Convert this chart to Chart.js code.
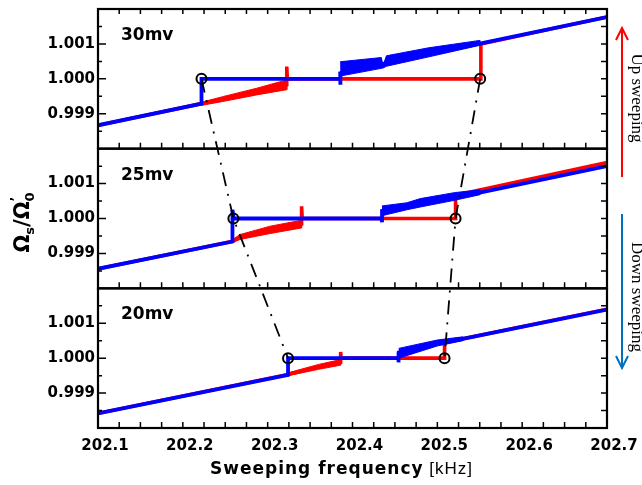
<!DOCTYPE html>
<html><head><meta charset="utf-8">
<script src="https://cdn.jsdelivr.net/npm/chart.js@4.4.1/dist/chart.umd.min.js"></script>
<style>html,body{margin:0;padding:0;background:#fff;}canvas{display:block;}</style>
</head><body>
<canvas id="c" width="642" height="485"></canvas>
<script>
// ---- labels ----
const panelLabels = ['30mv', '25mv', '20mv'];
const xTickLabels = ['202.1', '202.2', '202.3', '202.4', '202.5', '202.6', '202.7'];
const yTickLabels = ['0.999', '1.000', '1.001'];

// ---- 30 mV panel ----
const up30F = [202.1, 202.222, 202.247, 202.287, 202.3225, 202.3225, 202.3232, 202.5513, 202.5513, 202.7];
const up30V = [0.99867, 0.99929, 0.99942, 0.99963, 0.99983, 1.00035, 1.00000, 1.00000, 1.00100, 1.00177];
const upBand30F = [202.222, 202.247, 202.287, 202.3225, 202.3225, 202.287, 202.247, 202.222];
const upBand30V = [0.99933, 0.99949, 0.99973, 0.99997, 0.99969, 0.99954, 0.99935, 0.99924];
const down30F = [202.7, 202.55, 202.49, 202.44, 202.3855, 202.3855, 202.386, 202.222, 202.222, 202.1];
const down30V = [1.00177, 1.00101, 1.00071, 1.00045, 1.00016, 0.99983, 1.00000, 1.00000, 0.99929, 0.99867];
const downBand30F = [202.3855, 202.434, 202.436, 202.440, 202.49, 202.55, 202.55, 202.49, 202.440, 202.436, 202.434, 202.3855];
const downBand30V = [1.00049, 1.00061, 1.00038, 1.00066, 1.00089, 1.00110, 1.00096, 1.00063, 1.00036, 1.00031, 1.00030, 1.00008];

// ---- 25 mV panel ----
const up25F = [202.1, 202.259, 202.2675, 202.303, 202.340, 202.340, 202.3407, 202.5215, 202.5215, 202.7];
const up25V = [0.99856, 0.99935, 0.99947, 0.99968, 0.99984, 1.00035, 1.00000, 1.00000, 1.00067, 1.00160];
const upBand25F = [202.259, 202.2675, 202.303, 202.340, 202.340, 202.303, 202.2675, 202.259];
const upBand25V = [0.99940, 0.99954, 0.99978, 0.99995, 0.99973, 0.99957, 0.99940, 0.99932];
const down25F = [202.7, 202.55, 202.5245, 202.4348, 202.4348, 202.4345, 202.2600, 202.2585, 202.2585, 202.1];
const down25V = [1.00150, 1.00074, 1.00062, 1.00022, 0.99989, 1.00000, 1.00000, 1.00025, 0.99934, 0.99856];
const downBand25F = [202.4348, 202.464, 202.48, 202.52, 202.55, 202.55, 202.52, 202.48, 202.464, 202.4348];
const downBand25V = [1.00036, 1.00045, 1.00057, 1.00074, 1.00082, 1.00068, 1.00052, 1.00033, 1.00025, 1.00008];

// ---- 20 mV panel ----
const up20F = [202.1, 202.324, 202.36, 202.386, 202.386, 202.3867, 202.5085, 202.5085, 202.7];
const up20V = [0.99842, 0.99953, 0.99975, 0.99988, 1.00018, 1.00000, 1.00000, 1.00045, 1.00140];
const upBand20F = [202.324, 202.36, 202.386, 202.386, 202.36, 202.324];
const upBand20V = [0.99958, 0.99982, 0.99996, 0.99980, 0.99968, 0.99950];
const down20F = [202.7, 202.53, 202.50, 202.4545, 202.4545, 202.454, 202.324, 202.324, 202.1];
const down20V = [1.00139, 1.00055, 1.00043, 1.00016, 0.99988, 1.00000, 1.00000, 0.99952, 0.99842];
const downBand20F = [202.4545, 202.50, 202.53, 202.53, 202.50, 202.4545];
const downBand20V = [1.00028, 1.00052, 1.00061, 1.00050, 1.00035, 1.00000];

// ---- jump points (circles) linked across panels ----
const circleLeftF = [202.222, 202.2596, 202.324];
const circleRightF = [202.5505, 202.5215, 202.5085];
const circleV = [1.000, 1.000, 1.000];

const PANEL_MIN = 0.998, PANEL_MAX = 1.002, PANEL_SPAN = 4; // 4 units of 0.001
const panelAxes = ['y1', 'y2', 'y3'];
const RED = 'rgb(255,0,0)', BLUE = 'rgb(0,0,255)';

function pts(fs, vs) { return fs.map((f, i) => ({x: f, y: vs[i]})); }
function toAll(v, p) { return (panelAxes.length - 1 - p) * PANEL_SPAN + (v - PANEL_MIN) / 0.001; }

const panelData = [
  {up: [up30F, up30V], upBand: [upBand30F, upBand30V], down: [down30F, down30V], downBand: [downBand30F, downBand30V]},
  {up: [up25F, up25V], upBand: [upBand25F, upBand25V], down: [down25F, down25V], downBand: [downBand25F, downBand25V]},
  {up: [up20F, up20V], upBand: [upBand20F, upBand20V], down: [down20F, down20V], downBand: [downBand20F, downBand20V]}
];

const datasets = [];
const linkStyle = {
  yAxisID: 'yAll', showLine: true, borderColor: '#000', borderWidth: 1.8, borderDash: [14, 8, 2, 8],
  pointRadius: 5, pointBorderColor: '#000', pointBackgroundColor: 'rgba(0,0,0,0)', pointBorderWidth: 2,
  order: 0, fill: false
};
datasets.push(Object.assign({label: 'left jumps', data: circleLeftF.map((f, i) => ({x: f, y: toAll(circleV[i], i)}))}, linkStyle));
datasets.push(Object.assign({label: 'right jumps', data: circleRightF.map((f, i) => ({x: f, y: toAll(circleV[i], i)}))}, linkStyle));

panelData.forEach((pd, p) => {
  const ax = panelAxes[p];
  datasets.push({label: 'down ' + panelLabels[p], yAxisID: ax, data: pts(pd.down[0], pd.down[1]), showLine: true,
    borderColor: BLUE, borderWidth: 3.8, pointRadius: 0, order: 1, fill: false});
  datasets.push({label: 'down noise ' + panelLabels[p], yAxisID: ax, data: pts(pd.downBand[0], pd.downBand[1]), showLine: true,
    borderColor: BLUE, backgroundColor: BLUE, borderWidth: 1, pointRadius: 0, order: 1, fill: 'shape'});
  datasets.push({label: 'up ' + panelLabels[p], yAxisID: ax, data: pts(pd.up[0], pd.up[1]), showLine: true,
    borderColor: RED, borderWidth: 3.6, pointRadius: 0, order: 2, fill: false});
  datasets.push({label: 'up noise ' + panelLabels[p], yAxisID: ax, data: pts(pd.upBand[0], pd.upBand[1]), showLine: true,
    borderColor: RED, backgroundColor: RED, borderWidth: 1, pointRadius: 0, order: 2, fill: 'shape'});
});

const tickFont = {family: 'DejaVu Sans', weight: 'bold', size: 15};

function yAxis(stackPos) {
  return {
    type: 'linear', position: 'left', stack: 'panels', stackWeight: 1,
    min: PANEL_MIN, max: PANEL_MAX,
    grid: {display: false, drawTicks: false}, border: {display: false},
    afterBuildTicks: s => { s.ticks = yTickLabels.map(l => ({value: parseFloat(l)})); },
    ticks: {callback: (v, i) => yTickLabels[i], font: tickFont, color: '#000', padding: 3, autoSkip: false},
    afterFit: s => { s.width = 60; s.paddingTop = 0; s.paddingBottom = 0; }
  };
}

const deco = {
  id: 'deco',
  afterDatasetsDraw(chart) {
    const ctx = chart.ctx, xs = chart.scales.x;
    const L = chart.chartArea.left, R = chart.chartArea.right;
    ctx.save();
    ctx.strokeStyle = '#000';
    panelAxes.forEach((id, p) => {
      const s = chart.scales[id];
      const T = s.top, B = s.bottom;
      ctx.lineWidth = 1.5;
      ctx.beginPath();
      for (let k = 0; k <= 24; k++) {
        const px = xs.getPixelForValue(202.1 + k * 0.025);
        if (p === 0) { ctx.moveTo(px, T); ctx.lineTo(px, T + 5); }
        ctx.moveTo(px, B); ctx.lineTo(px, B - 6);
      }
      for (let k = 1; k < 8; k++) {
        const py = s.getPixelForValue(PANEL_MIN + k * 0.0005);
        const major = k % 2 === 0;
        ctx.moveTo(L, py); ctx.lineTo(L + (major ? 8 : 4), py);
        ctx.moveTo(R, py); ctx.lineTo(R - 6, py);
      }
      ctx.stroke();
      ctx.lineWidth = 2.2;
      ctx.strokeRect(L, T, R - L, B - T);
      ctx.fillStyle = '#000';
      ctx.font = 'bold 17px "DejaVu Sans"';
      ctx.textAlign = 'left'; ctx.textBaseline = 'alphabetic';
      ctx.fillText(panelLabels[p], L + 23, T + 31);
    });
    ctx.restore();
  },
  afterDraw(chart) {
    const ctx = chart.ctx;
    const L = chart.chartArea.left, R = chart.chartArea.right;
    const T = chart.chartArea.top, B = chart.chartArea.bottom;
    ctx.save();
    ctx.fillStyle = '#000';
    // x title
    const t1 = 'Sweeping frequency', t2 = ' [kHz]';
    ctx.letterSpacing = '1px';
    ctx.font = 'bold 17px "DejaVu Sans"';
    const w1 = ctx.measureText(t1).width;
    ctx.font = '17px "Liberation Sans"';
    const w2 = ctx.measureText(t2).width;
    let x0 = (L + R) / 2 - 11 - (w1 + w2) / 2;
    ctx.textBaseline = 'alphabetic'; ctx.textAlign = 'left';
    ctx.font = 'bold 17px "DejaVu Sans"';
    ctx.fillText(t1, x0, B + 46);
    ctx.font = '17px "Liberation Sans"';
    ctx.fillText(t2, x0 + w1, B + 46);
    ctx.letterSpacing = '0px';

    // y title  Ω_s / Ω'_0
    ctx.save();
    ctx.translate(29, (T + B) / 2 + 4);
    ctx.rotate(-Math.PI / 2);
    const big = 'bold 21px "DejaVu Sans"', small = 'bold 13px "DejaVu Sans"';
    const parts = [
      {t: 'Ω', f: big, dy: 0, adv: true},
      {t: 's', f: small, dy: 5, adv: true},
      {t: '/', f: big, dy: 0, adv: true},
      {t: 'Ω', f: big, dy: 0, adv: true},
      {t: '’', f: small, dy: -10, adv: false},
      {t: '0', f: small, dy: 5, adv: true}
    ];
    let tw = 0;
    parts.forEach(pt => { ctx.font = pt.f; if (pt.adv) tw += ctx.measureText(pt.t).width; });
    let cx = -tw / 2;
    parts.forEach(pt => { ctx.font = pt.f; ctx.fillText(pt.t, cx, pt.dy); if (pt.adv) cx += ctx.measureText(pt.t).width; });
    ctx.restore();

    // right side: sweep direction arrows and labels
    const ax = R + 15;
    ctx.lineWidth = 2;
    ctx.strokeStyle = RED;
    ctx.beginPath();
    ctx.moveTo(ax, T + 168); ctx.lineTo(ax, T + 19);
    ctx.moveTo(ax - 6, T + 31); ctx.lineTo(ax, T + 19); ctx.lineTo(ax + 6, T + 31);
    ctx.stroke();
    const blueArrow = 'rgb(0,112,192)';
    ctx.strokeStyle = blueArrow;
    ctx.beginPath();
    ctx.moveTo(ax, T + 205); ctx.lineTo(ax, T + 359);
    ctx.moveTo(ax - 6, T + 347); ctx.lineTo(ax, T + 359); ctx.lineTo(ax + 6, T + 347);
    ctx.stroke();
    ctx.font = '17px "Liberation Serif"';
    ctx.textAlign = 'center'; ctx.textBaseline = 'middle';
    ctx.save(); ctx.translate(R + 29, T + 89); ctx.rotate(Math.PI / 2); ctx.fillText('Up sweeping', 0, 0); ctx.restore();
    ctx.save(); ctx.translate(R + 29, T + 288); ctx.rotate(Math.PI / 2); ctx.fillText('Down sweeping', 0, 0); ctx.restore();
    ctx.restore();
  }
};

new Chart(document.getElementById('c'), {
  type: 'scatter',
  data: {datasets},
  options: {
    responsive: false, animation: false, devicePixelRatio: 1,
    layout: {padding: {left: 38, right: 35, top: 9, bottom: 0}},
    plugins: {legend: {display: false}, tooltip: {enabled: false}},
    elements: {line: {tension: 0, borderJoinStyle: 'miter'}},
    scales: {
      x: {
        type: 'linear', position: 'bottom', min: 202.1, max: 202.7,
        grid: {display: false, drawTicks: false}, border: {display: false},
        afterBuildTicks: s => { s.ticks = xTickLabels.map(l => ({value: parseFloat(l)})); },
        ticks: {callback: (v, i) => xTickLabels[i], font: tickFont, color: '#000', padding: 9, labelOffset: 7, autoSkip: false, maxRotation: 0},
        afterFit: s => { s.height = 57; s.paddingLeft = 0; s.paddingRight = 0; }
      },
      y3: yAxis(0),
      y2: yAxis(1),
      y1: yAxis(2),
      yAll: {type: 'linear', position: 'right', min: 0, max: PANEL_SPAN * 3, display: false,
        afterFit: s => { s.width = 0; s.paddingTop = 0; s.paddingBottom = 0; }}
    }
  },
  plugins: [deco]
});
</script>
</body></html>
